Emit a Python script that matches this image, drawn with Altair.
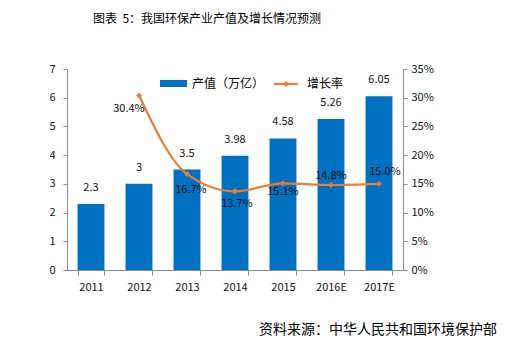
import altair as alt
import pandas as pd

years = ["2011", "2012", "2013", "2014", "2015", "2016E", "2017E"]
output_value = [2.3, 3.0, 3.5, 3.98, 4.58, 5.26, 6.05]
output_labels = ["2.3", "3", "3.5", "3.98", "4.58", "5.26", "6.05"]
rate_years = ["2012", "2013", "2014", "2015", "2016E", "2017E"]
growth_rate = [0.304, 0.167, 0.137, 0.151, 0.148, 0.150]
rate_labels = ["30.4%", "16.7%", "13.7%", "15.1%", "14.8%", "15.0%"]
left_ticks = [0, 1, 2, 3, 4, 5, 6, 7]
right_ticks = [0, 0.05, 0.1, 0.15, 0.2, 0.25, 0.3, 0.35]

title_text = "图表\u00a0\u00a05：我国环保产业产值及增长情况预测"
source_text = "资料来源：中华人民共和国环境保护部"
legend_bar = "产值（万亿）"
legend_line = "增长率"

bar_df = pd.DataFrame({"year": years, "value": output_value, "label": output_labels})
line_df = pd.DataFrame({"year": rate_years, "rate": growth_rate, "label": rate_labels})

FONT = "Noto Sans CJK SC"
BLUE = "#0070C0"
ORANGE = "#ED7D31"
AXIS_GREY = "#8C8C8C"
TXT = "#111111"

x_axis = alt.Axis(title=None, labelAngle=0, tickBand="extent", domainColor=AXIS_GREY,
                  tickColor=AXIS_GREY, tickSize=5, labelPadding=6, labelFontSize=11,
                  labelColor=TXT, labelFont=FONT, labelOverlap=False)
x_scale = alt.Scale(domain=years, paddingInner=0.44, paddingOuter=0.22)


def xe():
    return alt.X("year:N", sort=years, scale=x_scale, axis=x_axis)


left_axis = alt.Axis(title=None, values=left_ticks, grid=False,
                     domainColor=AXIS_GREY, tickColor=AXIS_GREY, tickSize=4,
                     labelPadding=8, labelFontSize=11, labelColor=TXT, labelFont=FONT,
                     labelOverlap=False, labelFlush=False)
left_scale = alt.Scale(domain=[0, 7])

right_axis = alt.Axis(title=None, orient="right", values=right_ticks,
                      format=".0%", grid=False, domainColor=AXIS_GREY, tickColor=AXIS_GREY,
                      tickSize=4, labelPadding=4, labelFontSize=11, labelColor=TXT,
                      labelFont=FONT, labelOverlap=False, labelFlush=False)
right_scale = alt.Scale(domain=[0, 0.35])


def yl():
    return alt.Y("value:Q", scale=left_scale, axis=left_axis)


def yr():
    return alt.Y("rate:Q", scale=right_scale, axis=right_axis)


bars = alt.Chart(bar_df).mark_bar(color=BLUE).encode(x=xe(), y=yl())
bar_text = alt.Chart(bar_df).mark_text(font=FONT, fontSize=11, color=TXT, dy=-16,
                                       baseline="middle").encode(x=xe(), y=yl(), text="label:N")

left = alt.layer(bars, bar_text)

line = alt.Chart(line_df).mark_line(color=ORANGE, strokeWidth=2.2, interpolate="monotone").encode(
    x=xe(), y=yr())
points = alt.Chart(line_df).mark_point(shape="diamond", filled=True, color=ORANGE, size=35, opacity=1).encode(
    x=xe(), y=yr())

label_offsets = {"2012": (-10, 14), "2013": (4, 16), "2014": (2, 13),
                 "2015": (0, 9), "2016E": (0, -9), "2017E": (6, -12)}
rate_text_layers = []
for yr_key, (ddx, ddy) in label_offsets.items():
    rate_text_layers.append(
        alt.Chart(line_df).transform_filter(alt.datum.year == yr_key).mark_text(
            font=FONT, fontSize=11, color=TXT, dx=ddx, dy=ddy, baseline="middle").encode(
            x=xe(), y=yr(), text="label:N"))

right = alt.layer(line, points, *rate_text_layers)

anno_df = pd.DataFrame({"k": [0]})
title_mark = alt.Chart(anno_df).mark_text(font=FONT, fontSize=12, color="#000000", align="left",
                                          baseline="middle").encode(
    x=alt.value(26), y=alt.value(-50), text=alt.value(title_text))
source_mark = alt.Chart(anno_df).mark_text(font=FONT, fontSize=14, color="#000000", align="right",
                                           baseline="middle").encode(
    x=alt.value(430), y=alt.value(261), text=alt.value(source_text))
leg_bar = alt.Chart(anno_df).mark_rect(color=BLUE).encode(
    x=alt.value(93), x2=alt.value(120), y=alt.value(11), y2=alt.value(18))
leg_bar_text = alt.Chart(anno_df).mark_text(font=FONT, fontSize=12, color="#000000", align="left",
                                            baseline="middle").encode(
    x=alt.value(125), y=alt.value(15), text=alt.value(legend_bar))
leg_line = alt.Chart(anno_df).mark_rule(color=ORANGE, strokeWidth=2.2).encode(
    x=alt.value(207), x2=alt.value(231), y=alt.value(15))
leg_pt = alt.Chart(anno_df).mark_point(shape="diamond", filled=True, color=ORANGE, size=35, opacity=1).encode(
    x=alt.value(219), y=alt.value(15))
leg_line_text = alt.Chart(anno_df).mark_text(font=FONT, fontSize=12, color="#000000", align="left",
                                             baseline="middle").encode(
    x=alt.value(240), y=alt.value(15), text=alt.value(legend_line))

chart = alt.layer(left, right, title_mark, source_mark, leg_bar, leg_bar_text, leg_line, leg_pt,
                  leg_line_text).resolve_scale(y="independent").properties(
    width=336, height=201,
    padding={"left": 67, "top": 69, "right": 122, "bottom": 81},
    autosize=alt.AutoSizeParams(type="none"),
    background="white",
).configure_view(stroke=None)

chart.save("out.html", embed_options={"renderer": "svg", "actions": False})
